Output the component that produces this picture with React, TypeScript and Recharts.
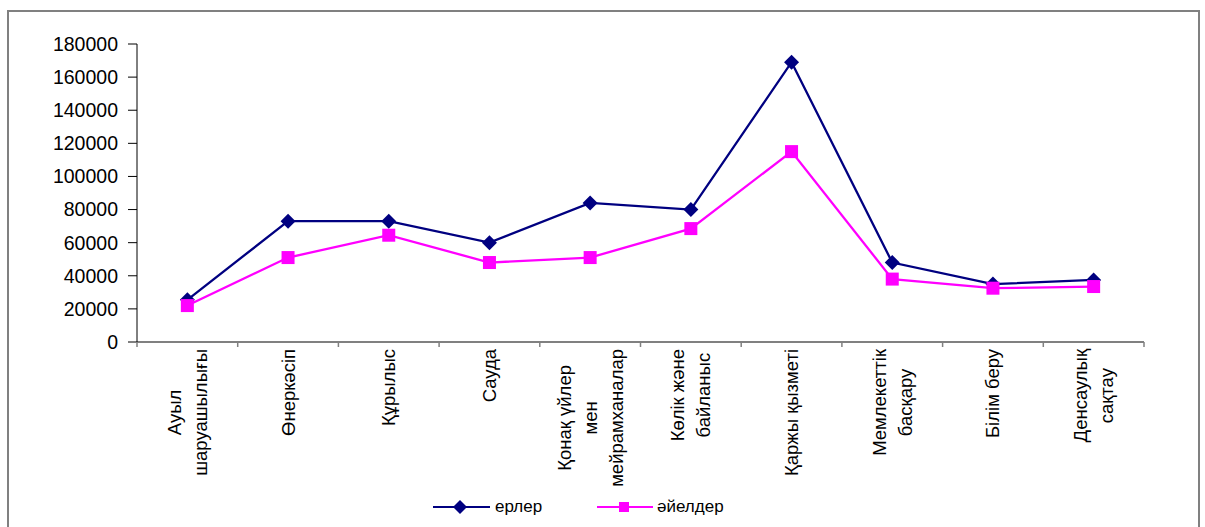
import React from "react"
import { LineChart, Line, XAxis, YAxis } from "recharts"

const categories = [
  "Ауыл\nшаруашылығы",
  "Өнеркәсіп",
  "Құрылыс",
  "Сауда",
  "Қонақ үйлер\nмен\nмейрамханалар",
  "Көлік және\nбайланыс",
  "Қаржы қызметі",
  "Мемлекеттік\nбасқару",
  "Білім беру",
  "Денсаулық\nсақтау",
]

const men = [25500, 73000, 73000, 60000, 84000, 80000, 169000, 48000, 35000, 37500]
const women = [22000, 51000, 64500, 48000, 51000, 68500, 115000, 38000, 32500, 33500]

const yTicks = [0, 20000, 40000, 60000, 80000, 100000, 120000, 140000, 160000, 180000]

const MEN_COLOR = "#000080"
const WOMEN_COLOR = "#ff00ff"
const FONT = "Liberation Sans, Arial, sans-serif"
const CAT_SIZE = 18.5

const data = categories.map((name, i) => ({ x: i + 0.5, name, men: men[i], women: women[i] }))
const xTicks = Array.from({ length: 21 }, (_, i) => i / 2)

let ctx: CanvasRenderingContext2D | null = null
function textWidth(s: string, size: number) {
  if (!ctx) ctx = document.createElement("canvas").getContext("2d")
  if (!ctx) return s.length * size * 0.55
  ctx.font = `${size}px ${FONT}`
  return ctx.measureText(s).width
}

function CategoryTick(props: any) {
  const { x, y, payload } = props
  const v = payload.value
  if (Number.isInteger(v)) {
    return <line x1={x} y1={y} x2={x} y2={y + 5} stroke="#808080" strokeWidth={1.5} />
  }
  const label = categories[Math.floor(v)]
  if (!label) return null
  const lines = label.split("\n")
  const maxW = Math.max(...lines.map((l) => textWidth(l, CAT_SIZE)))
  const cy = y + 7 + maxW / 2
  return (
    <g>
      {lines.map((l, k) => (
        <text
          key={k}
          transform={`translate(${x + (k - (lines.length - 1) / 2) * 26}, ${cy}) rotate(-90)`}
          textAnchor="middle"
          dominantBaseline="central"
          fontSize={CAT_SIZE}
          fontFamily={FONT}
          fill="#000"
        >
          {l}
        </text>
      ))}
    </g>
  )
}

function Diamond(props: any) {
  const { cx, cy } = props
  if (cx == null || cy == null) return null
  const r = 7.5
  return <polygon points={`${cx},${cy - r} ${cx + r},${cy} ${cx},${cy + r} ${cx - r},${cy}`} fill={MEN_COLOR} />
}

function Square(props: any) {
  const { cx, cy } = props
  if (cx == null || cy == null) return null
  const s = 13
  return <rect x={cx - s / 2} y={cy - s / 2} width={s} height={s} fill={WOMEN_COLOR} />
}

export default function App() {
  return (
    <div style={{ position: "absolute", left: 0, top: 0, width: 1205, height: 527, background: "#fff", overflow: "hidden" }}>
      <div
        style={{
          position: "absolute",
          left: 7,
          top: 10,
          width: 1193,
          height: 540,
          border: "2px solid #808080",
          boxSizing: "border-box",
        }}
      />
      <div style={{ position: "absolute", left: 0, top: 0 }}>
        <LineChart width={1205} height={527} data={data} margin={{ top: 44, right: 61, left: 0, bottom: 0 }}>
          <XAxis
            dataKey="x"
            type="number"
            domain={[0, 10]}
            ticks={xTicks}
            interval={0}
            tick={<CategoryTick />}
            tickLine={false}
            tickSize={0}
            tickMargin={0}
            height={185}
            axisLine={{ stroke: "#808080", strokeWidth: 2 }}
          />
          <YAxis
            domain={[0, 180000]}
            ticks={yTicks}
            interval={0}
            width={137}
            tickSize={9}
            tickMargin={10}
            axisLine={{ stroke: "#000", strokeWidth: 1 }}
            tickLine={{ stroke: "#000" }}
            tick={{ fill: "#000", fontSize: 19.5, fontFamily: FONT }}
          />
          <Line
            dataKey="men"
            name="ерлер"
            stroke={MEN_COLOR}
            strokeWidth={2.3}
            dot={<Diamond />}
            activeDot={false}
            isAnimationActive={false}
          />
          <Line
            dataKey="women"
            name="әйелдер"
            stroke={WOMEN_COLOR}
            strokeWidth={2.3}
            dot={<Square />}
            activeDot={false}
            isAnimationActive={false}
          />
        </LineChart>
      </div>
      <div style={{ position: "absolute", left: 433, top: 496, fontFamily: FONT, fontSize: 17, display: "flex", alignItems: "center" }}>
        <svg width={58} height={22}>
          <line x1={0} y1={11} x2={57} y2={11} stroke={MEN_COLOR} strokeWidth={2} />
          <polygon points="27,4 34,11 27,18 20,11" fill={MEN_COLOR} />
        </svg>
        <span style={{ marginLeft: 4 }}>ерлер</span>
      </div>
      <div style={{ position: "absolute", left: 597, top: 496, fontFamily: FONT, fontSize: 17, display: "flex", alignItems: "center" }}>
        <svg width={57} height={22}>
          <line x1={0} y1={11} x2={56} y2={11} stroke={WOMEN_COLOR} strokeWidth={2} />
          <rect x={22} y={6} width={10} height={10} fill={WOMEN_COLOR} />
        </svg>
        <span style={{ marginLeft: 3 }}>әйелдер</span>
      </div>
    </div>
  )
}
